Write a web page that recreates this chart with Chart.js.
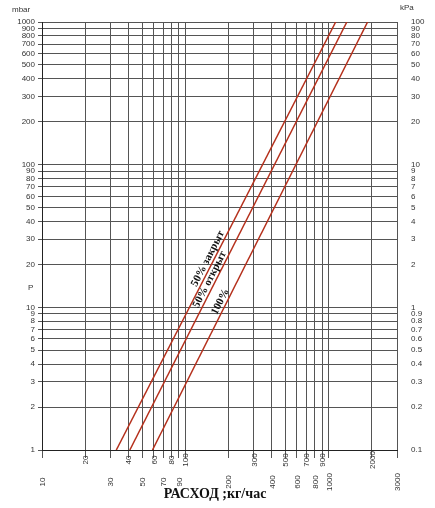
<!DOCTYPE html>
<html>
<head>
<meta charset="utf-8">
<script src="https://cdn.jsdelivr.net/npm/chart.js@4"></script>
<style>
  body { margin: 0; background: #fff; }
  #wrap { width: 435px; height: 508px; }
</style>
</head>
<body>
<div id="wrap"><canvas id="chart" width="435" height="508"></canvas></div>
<script>
// flow, kg/h
const xTicks = [10, 20, 30, 40, 50, 60, 70, 80, 90, 100, 200, 300, 400, 500, 600, 700, 800, 900, 1000, 2000, 3000];
// pressure, mbar
const yTicks = [1, 2, 3, 4, 5, 6, 7, 8, 9, 10, 20, 30, 40, 50, 60, 70, 80, 90, 100, 200, 300, 400, 500, 600, 700, 800, 900, 1000];
const lineNames = ['50% закрыт', '50% открыт', '100%'];
const lineFlow = [[33, 1120], [41, 1340], [59, 1870]];
const linePressure = [[1, 1000], [1, 1000], [1, 1000]];
const labelPressure = [21, 15, 10.5];

const datasets = lineNames.map((name, i) => ({
    label: name,
    data: lineFlow[i].map((x, j) => ({x: x, y: linePressure[i][j]})),
    showLine: true,
    borderColor: '#b5301c',
    borderWidth: 1.5,
    pointRadius: 0
}));

const fixedTicks = (list) => (scale) => { scale.ticks = list.map(v => ({value: v})); };

const decor = {
    id: 'decor',
    afterDraw(chart) {
        const ctx = chart.ctx;
        const xs = chart.scales.x, ys = chart.scales.y;
        ctx.save();
        ctx.fillStyle = '#333';
        // staggered vertical x labels
        ctx.font = '8px "Liberation Sans"';
        xTicks.forEach((v, i) => {
            const px = xs.getPixelForValue(v);
            const py = i % 2 === 0 ? 482 : 460;
            ctx.save();
            ctx.translate(px + 3, py);
            ctx.rotate(-Math.PI / 2);
            ctx.textAlign = 'center';
            ctx.fillText(String(v), 0, 0);
            ctx.restore();
        });
        ctx.font = 'bold 14px "Liberation Serif"';
        ctx.fillStyle = '#111';
        ctx.textAlign = 'center';
        ctx.fillText('РАСХОД ;кг/час', 215, 498);
        ctx.font = '8px "Liberation Sans"';
        ctx.fillStyle = '#333';
        ctx.textAlign = 'left';
        ctx.fillText('mbar', 12, 12);
        ctx.fillText('kPa', 400, 10);
        ctx.fillText('P', 28, 290);
        // line labels along the lines
        ctx.font = 'bold 11px "Liberation Serif"';
        ctx.fillStyle = '#111';
        lineNames.forEach((name, i) => {
            const [x0, x1] = lineFlow[i], [y0, y1] = linePressure[i];
            const p0 = {x: xs.getPixelForValue(x0), y: ys.getPixelForValue(y0)};
            const p1 = {x: xs.getPixelForValue(x1), y: ys.getPixelForValue(y1)};
            const ly = ys.getPixelForValue(labelPressure[i]);
            const t = (ly - p0.y) / (p1.y - p0.y);
            const lx = p0.x + t * (p1.x - p0.x);
            ctx.save();
            ctx.translate(lx, ly);
            ctx.rotate(Math.atan2(p1.y - p0.y, p1.x - p0.x));
            ctx.textAlign = 'center';
            ctx.fillText(name, 0, -3);
            ctx.restore();
        });
        ctx.restore();
    }
};

new Chart(document.getElementById('chart'), {
    type: 'scatter',
    data: {datasets: datasets},
    options: {
        responsive: false,
        animation: false,
        layout: {padding: {top: 22}},
        plugins: {legend: {display: false}, tooltip: {enabled: false}},
        scales: {
            x: {
                type: 'logarithmic', min: 10, max: 3000,
                afterBuildTicks: fixedTicks(xTicks),
                afterFit: (s) => { s.height = 58; },
                ticks: {display: false},
                grid: {color: '#555', lineWidth: 1, drawTicks: true, tickLength: 8},
                border: {color: '#222'}
            },
            y: {
                type: 'logarithmic', min: 1, max: 1000,
                afterBuildTicks: fixedTicks(yTicks),
                afterFit: (s) => { s.width = 42; },
                ticks: {
                    color: '#333', font: {size: 8, family: 'Liberation Sans'},
                    callback: (v) => String(v)
                },
                grid: {color: '#555', lineWidth: 1, tickLength: 4},
                border: {color: '#222'}
            },
            y2: {
                type: 'logarithmic', position: 'right', min: 1, max: 1000,
                afterBuildTicks: fixedTicks(yTicks),
                afterFit: (s) => { s.width = 38; },
                ticks: {
                    color: '#333', font: {size: 8, family: 'Liberation Sans'},
                    padding: 6,
                    callback: (v) => String(+(v / 10).toFixed(1))
                },
                grid: {display: false},
                border: {display: false}
            }
        }
    },
    plugins: [decor]
});
</script>
</body>
</html>
